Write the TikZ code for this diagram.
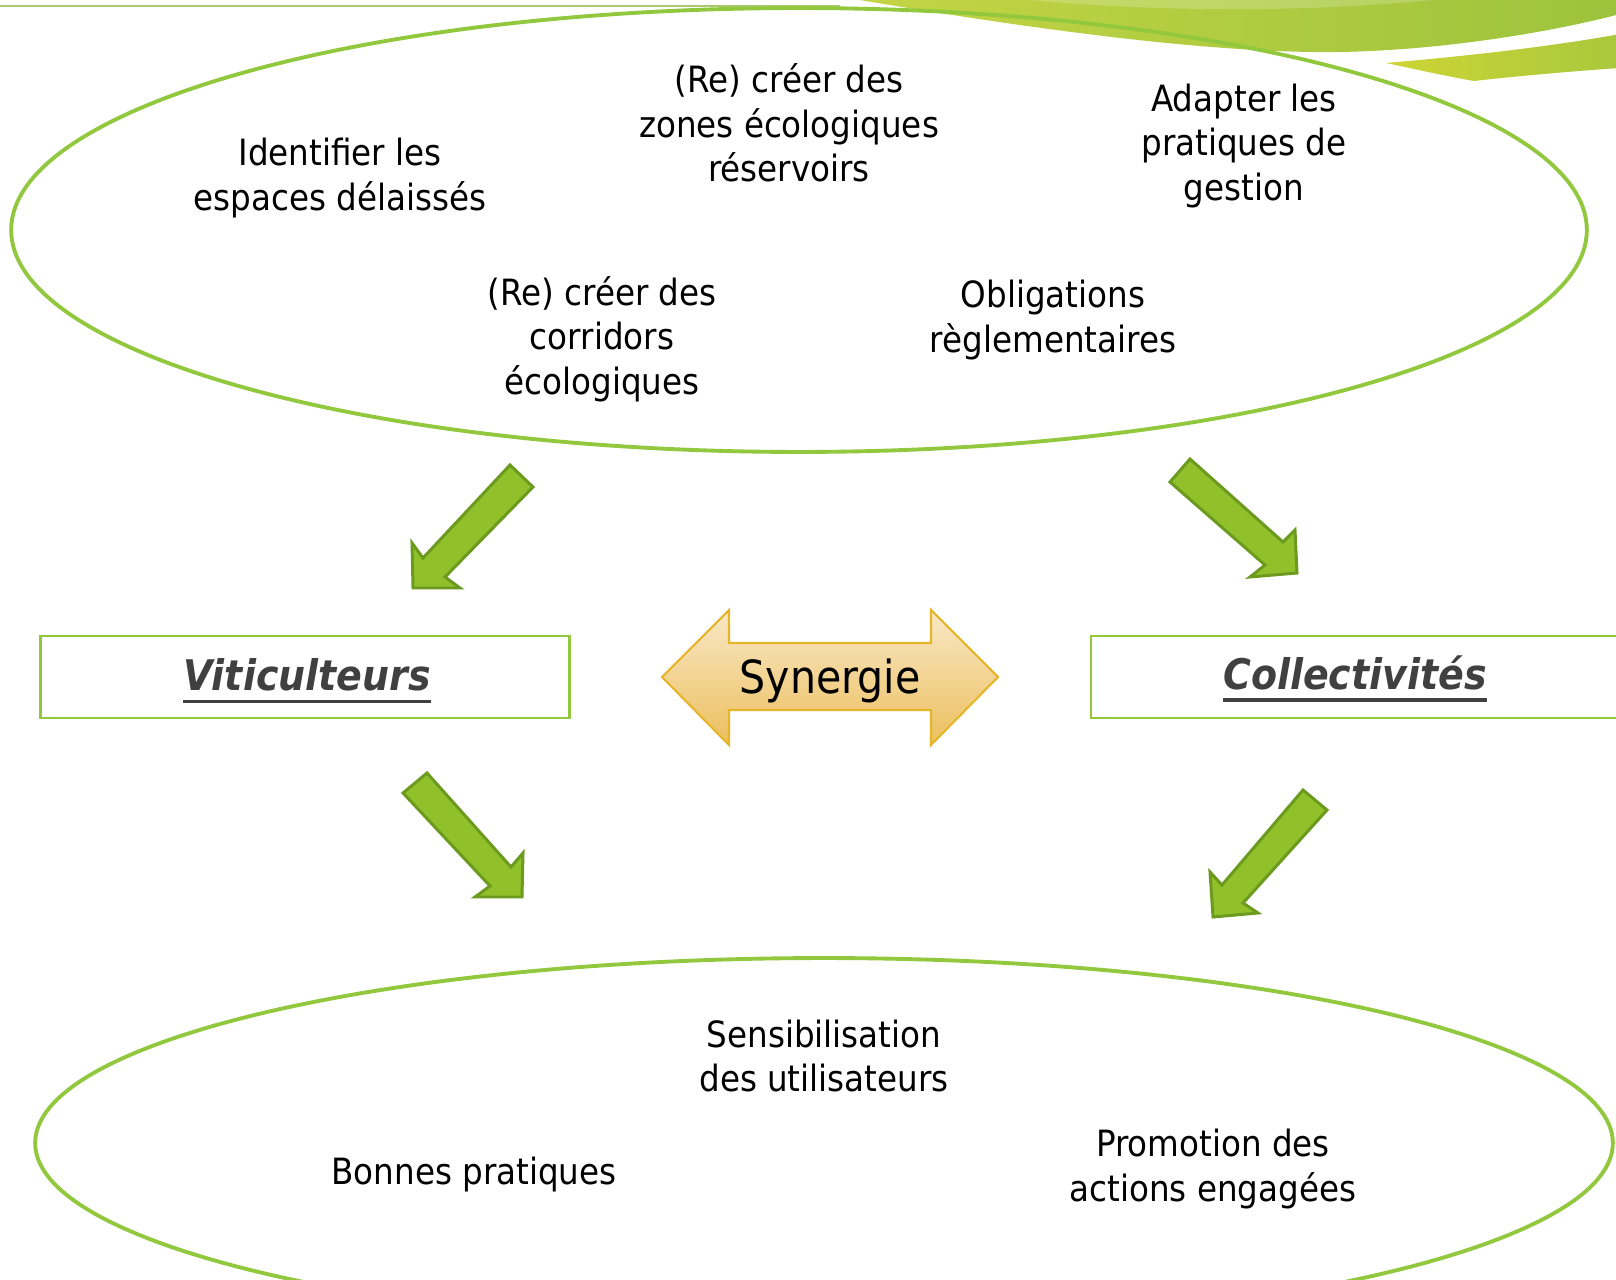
\documentclass[tikz,border=0pt]{standalone}
\usepackage{fontspec}
\setmainfont{DejaVu Sans}[FakeStretch=0.9]
\usepackage[svgnames]{xcolor}
\usetikzlibrary{shapes.geometric,arrows.meta}
\definecolor{vertclair}{RGB}{146,200,62}
\definecolor{vertfleche}{RGB}{144,193,42}
\definecolor{vertfonce}{RGB}{107,154,31}
\definecolor{grisfonce}{RGB}{64,64,64}
\definecolor{bandeauG}{RGB}{197,213,68}
\definecolor{bandeauD}{RGB}{156,195,61}
\definecolor{bandeauBG}{RGB}{205,213,53}
\definecolor{bandeauBD}{RGB}{169,200,60}
\definecolor{filet}{RGB}{169,200,112}
\definecolor{orHaut}{RGB}{249,232,198}
\definecolor{orBas}{RGB}{236,191,94}
\definecolor{orBord}{RGB}{229,181,42}
\tikzset{
  idee/.style={shape=rectangle,align=center,inner sep=0pt,font=\fontsize{20.6}{25.4}\selectfont},
  cadre/.style={shape=rectangle,draw=vertclair,line width=1.2pt,minimum width=10.58cm,minimum height=1.64cm},
  acteur/.style={shape=rectangle,inner sep=0pt,text=grisfonce,font=\fontsize{24}{28}\bfseries\itshape},
  souligne/.style={draw=grisfonce,line width=2pt},
  bulle/.style={draw=vertclair,line width=2.2pt},
  fleche/.style={fill=vertfleche,draw=vertfonce,line width=1.7pt,line join=miter}
}

\begin{document}
\begin{tikzpicture}[x=0.02cm,y=-0.02cm]

\clip (0,0) rectangle (1616,1280);
\fill[white] (0,0) rectangle (1616,1280);

% bandeau en haut a droite
\path[left color=bandeauG,right color=bandeauD] (830,-5) .. controls (1000,24) and (1200,54) .. (1340,52) .. controls (1450,50) and (1560,30) .. (1620,14) -- (1620,-5) -- cycle;
\fill[white,opacity=0.2] (980,-5) .. controls (1150,14) and (1320,14) .. (1480,-5) -- cycle;
\path[left color=bandeauBG,right color=bandeauBD] (1386,63) .. controls (1480,55) and (1560,45) .. (1620,34) -- (1620,68) .. controls (1560,72) and (1500,78) .. (1474,81) .. controls (1440,75) and (1410,68) .. (1386,63) -- cycle;
\draw[filet,line width=1.4pt] (0,6) -- (840,6);

% les deux bulles
\draw[bulle] (799,230) ellipse [x radius=15.76cm,y radius=4.44cm];
\draw[bulle] (824,1143) ellipse [x radius=15.78cm,y radius=3.7cm];

\path (340,178) node (espaces) [idee]{Identifier les\\espaces délaissés};

\path (789,123) node (reservoirs) [idee]{(Re) créer des\\zones écologiques\\réservoirs};

\path (1244,146) node (gestion) [idee]{Adapter les\\pratiques de\\gestion};

\path (602,339) node (corridors) [idee]{(Re) créer des\\corridors\\écologiques};

\path (1053,320) node (obligations) [idee]{Obligations\\règlementaires};

\path (824,1056) node (sensib) [idee]{Sensibilisation\\des utilisateurs};

\path (474,1175) node (bonnes) [idee]{Bonnes pratiques};

\path (1213,1169) node (promotion) [idee]{Promotion des\\actions engagées};

% acteurs
\path (305,677) node (vitibox) [cadre]{};
\path (307,675) node (viti) [acteur]{Viticulteurs};
\draw[souligne] ([yshift=-6pt]viti.base west) -- ([yshift=-6pt]viti.base east);

\path (1355,677) node (collecbox) [cadre]{};
\path (1355,673) node (collec) [acteur]{Collectivités};
\draw[souligne] ([yshift=-6pt]collec.base west) -- ([yshift=-6pt]collec.base east);

% synergie
\path[top color=orHaut,bottom color=orBas,draw=orBord,line width=1.2pt,line join=miter]
  (662,677) -- (729,610) -- (729,643) -- (931,643) -- (931,610) -- (998,677) -- (931,745) -- (931,710) -- (729,710) -- (729,745) -- cycle;
\path (830,681) node (synergie) [font=\fontsize{26}{30}\selectfont]{Synergie};

% fleches vertes
\draw[fleche] (510,465) -- (533,487) -- (445,577) -- (460,588) -- (413,588) -- (412,543) -- (423,558) -- cycle;
\draw[fleche] (1190,459) -- (1283,542) -- (1295,530) -- (1297,573) -- (1250,577) -- (1265,565) -- (1170,482) -- cycle;
\draw[fleche] (427,773) -- (511,867) -- (523,853) -- (522,897) -- (475,897) -- (490,886) -- (403,793) -- cycle;
\draw[fleche] (1303,790) -- (1327,810) -- (1243,903) -- (1258,913) -- (1213,917) -- (1210,872) -- (1222,885) -- cycle;

\end{tikzpicture}
\end{document}
